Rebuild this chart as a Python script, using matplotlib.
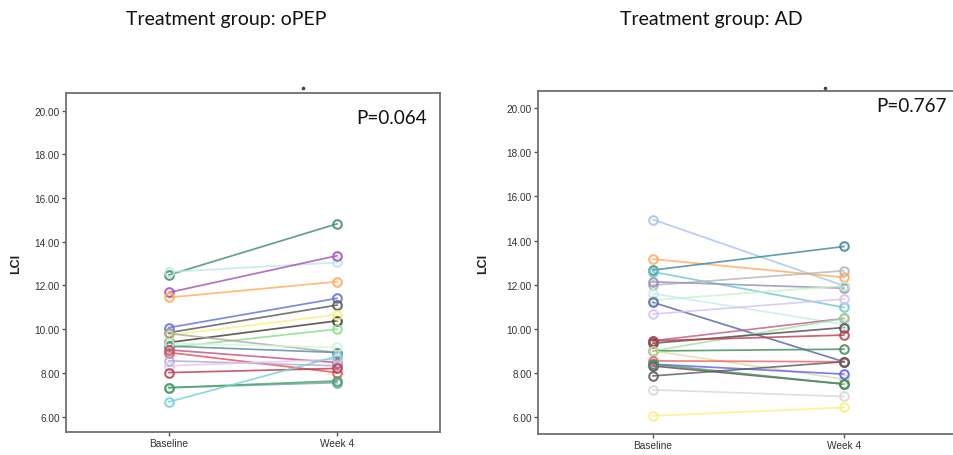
import matplotlib
matplotlib.use("Agg")
import matplotlib.pyplot as plt
from matplotlib.lines import Line2D
from matplotlib.ticker import FormatStrFormatter

categories = ["Baseline", "Week 4"]

# Treatment group: oPEP
opep_baseline = [12.48, 12.62, 11.68, 11.45, 10.07, 9.84, 9.39, 9.72, 9.16, 9.80,
                 9.22, 9.35, 9.05, 8.93, 8.55, 8.32, 8.01, 7.32, 7.32, 6.67]
opep_week4 = [14.82, 13.05, 13.36, 12.17, 11.41, 11.10, 10.38, 10.66, 10.00, 8.93,
              8.93, 9.16, 8.47, 8.01, 8.32, 8.62, 8.20, 7.55, 7.63, 8.75]
opep_colors = ["#3f8a66", "#b8e8e8", "#a050b0", "#ffaa55", "#6070d0", "#555555",
               "#3a3a28", "#f6ee80", "#88dd88", "#a8a8a8", "#5a8a9a", "#d4f6d4",
               "#c05080", "#e84c4c", "#b0a8d4", "#e2c4ec", "#b03c4c", "#6aa2b4",
               "#4aa05c", "#70d2d2"]

# Treatment group: AD
ad_baseline = [14.95, 13.16, 12.66, 12.58, 11.98, 12.13, 11.60, 11.30, 11.20, 10.67,
               9.46, 9.00, 9.35, 9.46, 9.00, 9.00, 8.55, 8.40, 8.32, 8.40,
               7.87, 7.24, 6.06]
ad_week4 = [11.95, 12.33, 13.73, 10.97, 12.63, 11.84, 10.20, 11.95, 8.51, 11.35,
            10.47, 10.47, 10.06, 9.72, 9.08, 7.72, 8.51, 7.95, 7.50, 7.50,
            8.51, 6.94, 6.44]
ad_colors = ["#a4c4e8", "#ffaa55", "#3f8898", "#6cc8c8", "#b4b4b4", "#9090b8",
             "#c4ecec", "#c8f0c8", "#5060a8", "#d8c0f2", "#c05c88", "#a0e0a0",
             "#4a4a4a", "#c03c4c", "#3f8a56", "#dcdca4", "#f06060", "#5c5cf0",
             "#6a3c5c", "#3ea05c", "#5a5a5a", "#d8d8d8", "#f8f080"]

yticks = [6, 8, 10, 12, 14, 16, 18, 20]

fig = plt.figure(figsize=(9.54, 4.56), dpi=100)

def draw_panel(ax, base, wk4, colors, xlim, ylim):
    for b, w, c in zip(base, wk4, colors):
        ax.plot([0, 1], [b, w], color=c, lw=1.25, alpha=0.8, zorder=2)
        ax.plot([0, 1], [b, w], ls="none", marker="o", ms=6.2, mfc="none",
                mec=c, mew=1.5, alpha=0.85, zorder=3)
    ax.set_xlim(*xlim)
    ax.set_ylim(*ylim)
    ax.set_xticks([0, 1])
    ax.set_xticklabels(categories, fontsize=7.3, color="#333333", family="Liberation Sans")
    ax.set_yticks(yticks)
    ax.yaxis.set_major_formatter(FormatStrFormatter("%.2f"))
    for lab in ax.get_yticklabels():
        lab.set_fontsize(7.2)
        lab.set_color("#333333")
        lab.set_family("Liberation Sans")
    ax.tick_params(direction="out", length=3, width=1, color="#555555", pad=1.5)
    for s in ax.spines.values():
        s.set_color("#707070")
        s.set_linewidth(1.3)
    ax.set_ylabel("LCI", fontsize=9, fontweight="bold", family="Liberation Sans",
                  color="#222222")

ax1 = fig.add_axes([0.0692, 0.0504, 0.392, 0.7435])
draw_panel(ax1, opep_baseline, opep_week4, opep_colors, (-0.613, 1.613), (5.29, 20.81))
ax1.yaxis.set_label_coords(-0.118, 0.5)

ax2 = fig.add_axes([0.5639, 0.0461, 0.4413, 0.7521])
draw_panel(ax2, ad_baseline, ad_week4, ad_colors, (-0.602, 1.602), (5.24, 20.77))
ax2.yaxis.set_label_coords(-0.117, 0.5)

# titles
fig.text(226 / 954, 1 - 20 / 456, "Treatment group: oPEP", ha="center", va="center",
         fontsize=14, family="Lato", color="#111111")
fig.text(711 / 954, 1 - 20 / 456, "Treatment group: AD", ha="center", va="center",
         fontsize=14, family="Lato", color="#111111")

# P values
fig.text(427 / 954, 1 - 118 / 456, "P=0.064", ha="right", va="center",
         fontsize=13.6, family="Lato", color="#111111")
fig.text(947 / 954, 1 - 107 / 456, "P=0.767", ha="right", va="center",
         fontsize=13.6, family="Lato", color="#111111")

# small stray dots above the panels
for xd in (303, 825):
    fig.add_artist(Line2D([xd / 954], [1 - 89 / 456], marker="o", ms=1.6,
                          color="#444444", transform=fig.transFigure))

fig.savefig("out.png", dpi=100)
